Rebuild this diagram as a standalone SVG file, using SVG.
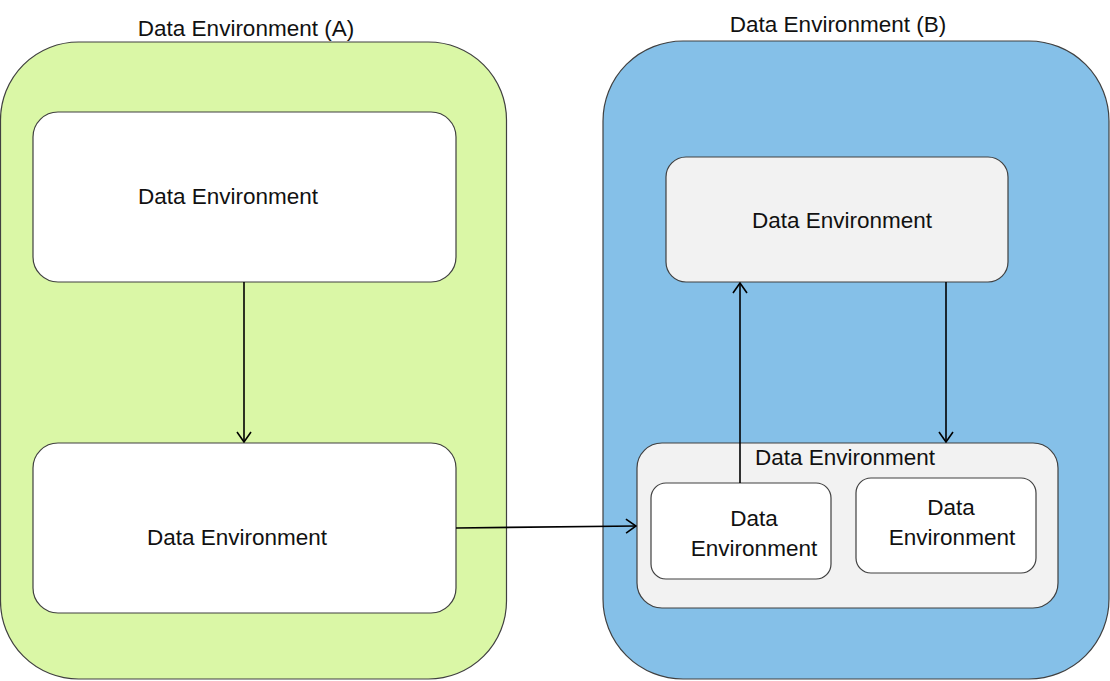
<svg xmlns="http://www.w3.org/2000/svg" width="1110" height="681" viewBox="0 0 1110 681">
<style>
.box{stroke:#404040;stroke-width:1.2}
.t{font-family:"Liberation Sans",Arial,sans-serif;font-size:22.5px;fill:#111;text-anchor:middle}
.c{stroke:#000;stroke-width:1.6;fill:none;marker-end:url(#arr)}
</style>
<defs>
<marker id="arr" viewBox="0 0 12 16" refX="11" refY="8" markerWidth="12" markerHeight="16" markerUnits="userSpaceOnUse" orient="auto">
<path d="M1,1 L11,8 L1,15" fill="none" stroke="#000" stroke-width="1.6"/>
</marker>
</defs>
<rect width="1110" height="681" fill="#fff"/>
<g id="envA">
<rect class="box" x="0.5" y="42" width="506" height="637" rx="78" fill="#daf7a6"/>
<text class="t" x="246" y="36">Data Environment (A)</text>
</g>
<g id="envB">
<rect class="box" x="603" y="41" width="506" height="638" rx="80" fill="#85c0e8"/>
<text class="t" x="838" y="32">Data Environment (B)</text>
</g>
<g id="a1">
<rect class="box" x="33" y="112" width="423" height="170" rx="25" fill="#fff"/>
<text class="t" x="228" y="204">Data Environment</text>
</g>
<g id="a2">
<rect class="box" x="33" y="443" width="423" height="170" rx="25" fill="#fff"/>
<text class="t" x="237" y="545">Data Environment</text>
</g>
<g id="b1">
<rect class="box" x="666" y="157" width="342" height="125" rx="20" fill="#f2f2f2"/>
<text class="t" x="842" y="228">Data Environment</text>
</g>
<g id="b2">
<rect class="box" x="637" y="443" width="421" height="165" rx="25" fill="#f2f2f2"/>
<text class="t" x="845" y="465">Data Environment</text>
</g>
<g id="b2a">
<rect class="box" x="651" y="483" width="180" height="96" rx="15" fill="#fff"/>
<text class="t" x="754" y="526">Data</text>
<text class="t" x="754" y="556">Environment</text>
</g>
<g id="b2b">
<rect class="box" x="856" y="478" width="180" height="95" rx="15" fill="#fff"/>
<text class="t" x="951" y="515">Data</text>
<text class="t" x="952" y="545">Environment</text>
</g>
<g id="connectors">
<line class="c" x1="244" y1="282" x2="244" y2="442"/>
<line class="c" x1="456" y1="528" x2="636" y2="526"/>
<line class="c" x1="740" y1="483" x2="740" y2="283"/>
<line class="c" x1="946" y1="282" x2="946" y2="442"/>
</g>
</svg>
